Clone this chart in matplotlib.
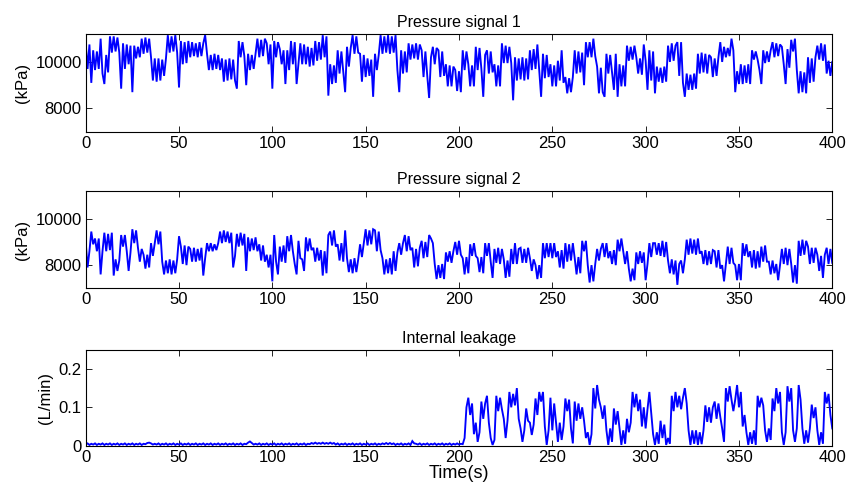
import numpy as np
import matplotlib
matplotlib.use("Agg")
import matplotlib.pyplot as plt

plt.rcParams['font.family'] = ['Liberation Sans', 'DejaVu Sans']

# time axis (s), one sample per second
time_s = list(range(0, 401))

# Pressure signal 1 (kPa)
pressure1 = [
10800,9700,10750,9100,10500,9650,10450,9700,11000,9500,9050,10300,9550,11100,10400,11100,10450,11050,10400,8850,
10800,9700,10750,9900,10700,8700,10700,10150,10650,10200,11000,10350,11050,10400,11000,10200,9200,10150,9150,10150,
9200,10100,9400,10150,11150,10400,11100,10450,11150,10400,8900,10900,9900,10850,9950,10900,10200,10850,10250,10800,
10200,10850,10250,10800,11150,10350,9650,10300,9650,10350,9700,10300,9650,10150,9150,10100,9200,10150,9250,10100,
9200,8850,10900,10200,10850,10250,9000,10350,9650,10300,9700,10350,11000,10200,10950,10250,11000,10800,9900,10750,
8850,10900,10200,10850,10550,9900,10500,9050,10500,9650,10900,9900,10850,9050,9950,10800,9900,10750,9900,10650,
9800,10600,9850,10900,10050,10850,10100,11150,10200,11100,8550,9900,9050,9850,9100,10500,9500,10450,9550,8700,
10650,9800,10600,11150,10350,11100,10400,10350,9150,10300,9350,10150,9400,10100,8500,10350,9650,10300,11150,10350,
11100,10400,11150,10350,11100,10400,11150,9650,8700,10500,9500,10450,9550,10800,10100,10750,10150,10800,10100,10750,
10500,9350,10450,9400,8450,10200,10650,9900,10600,10500,9350,10450,9400,9900,8950,9850,8950,9800,9650,8750,
9600,8700,10500,9650,10450,9900,8950,9850,8950,10650,9650,10600,9700,8500,10300,10500,9500,10450,9550,9900,
8950,9850,8950,10800,9950,10700,9950,10650,9950,8350,10200,9200,10150,9250,10200,9200,10150,9250,10500,9650,
10550,9700,10750,9650,8500,10350,9300,10300,9350,9900,8950,9850,8950,10050,9200,10500,9100,9350,8650,9300,
8700,9350,10500,9500,10450,9550,10400,9000,10850,10200,10850,10200,11000,10250,9800,8650,9750,8700,8500,10350,
9500,10300,9550,8800,10350,8500,9900,8950,9850,8950,10700,10050,10650,10100,10700,10200,9500,10150,9450,10750,
10050,8800,10500,9200,10450,8650,9800,9150,9750,9100,9800,9150,10700,10000,10800,10050,10700,10850,9400,10850,
9100,8500,9500,8800,9450,8800,9500,8850,10350,9500,10400,9550,10350,9500,10300,10200,9350,10150,9400,10200,
10850,10000,10650,10200,10600,10250,11000,10500,8700,9600,9050,9900,9050,9850,9100,9900,9050,10500,10100,10450,
10100,9650,9050,10500,9950,10450,10000,10500,10850,10200,10800,10250,10750,10650,9900,9050,10550,9750,10950,10450,
11000,9650,8650,9600,8700,9550,8650,10200,9100,10150,9150,10200,10700,10100,10800,10050,10750,9500,10050,9400,
10000]

# Pressure signal 2 (kPa)
pressure2 = [
9000,7900,8600,9450,8900,9150,8600,9150,7600,8600,9400,8600,9350,8650,9400,7550,8250,7750,8200,9300,
8800,9300,8600,7750,8550,9550,8950,9500,8750,8150,8700,8450,7850,8450,7900,8950,8400,8950,9500,8900,
9450,8150,7600,8200,7650,8250,7600,8200,7650,8250,9250,8800,8050,8850,8000,8800,8700,8150,8750,8150,
8700,8200,8750,7550,8300,8950,8600,8950,8600,8900,8650,8950,9450,8950,9500,9000,9450,8950,9400,7900,
8400,9350,8800,9400,8850,9350,7750,9200,8600,9150,8650,9200,8600,8900,8200,8850,8150,8450,7900,8450,
7300,9300,8150,7600,8800,8150,8850,8100,9250,8600,9300,8600,8050,7600,9050,8300,8250,7750,9200,8600,
9150,8650,8750,8150,8750,8200,8650,7550,8600,7650,9300,9450,8850,9500,8800,8900,8200,8950,8150,9500,
8300,7700,8250,7650,8300,7700,8250,8900,8350,8950,9550,8850,9500,8900,9550,9500,8600,9450,8650,8300,
7600,8250,7650,8300,7600,8600,7750,8550,8950,8450,8950,9300,8600,9250,8650,8750,7900,8700,7950,8750,
9050,8300,9000,8350,9300,9150,8950,8050,7400,8000,7450,8050,7400,8550,8150,8600,8100,8600,9000,8450,
9050,8450,8300,7600,8350,7650,8900,8400,8950,8400,8300,7700,8350,7650,8950,8400,8950,8150,7450,8700,
8100,8750,8050,8700,8250,7450,8200,7500,8700,8050,8950,8050,8700,8750,8100,8700,8100,8750,8300,7750,
8250,8000,7400,8000,7450,8950,8300,8950,8350,8950,8300,8950,8350,8600,7900,8650,7850,8950,8150,8900,
8200,8950,8300,7600,8350,7650,9050,8600,9050,8000,7250,8000,7300,8050,8700,8200,8700,8950,8350,8950,
8300,8600,8050,8650,8000,9100,8600,9150,8600,8050,8600,7850,7300,7850,7350,8550,8050,8600,8100,8550,
7350,8050,8950,8350,8950,8950,8450,8950,8400,9050,8350,9000,8200,7650,8250,7600,8200,7150,8050,8200,
7650,8250,9100,8450,9150,8500,9100,8450,9150,8500,8600,8050,8650,8000,8600,8050,8650,8600,7900,8650,
7850,8000,7300,8050,8800,8050,8750,8100,8000,7350,8050,7350,8950,8400,8900,8350,8600,7900,8650,7850,
8600,7900,8800,8150,8850,8150,8150,7600,8200,7650,8050,7350,8000,8700,8050,8750,8000,8700,8050,7250,
8000,7200,9050,8400,9100,8450,9050,8800,8050,8750,8100,8750,8450,7750,8400,7450,8450,8750,8050,8700,
8100]

# Internal leakage (L/min)
leakage = [
0.003,0.006,0.002,0.005,0.003,0.006,0.002,0.005,0.003,0.006,0.002,0.005,0.003,0.006,0.002,0.005,0.003,0.006,0.002,0.005,
0.003,0.006,0.002,0.005,0.003,0.006,0.002,0.005,0.003,0.006,0.002,0.005,0.004,0.007,0.008,0.006,0.003,0.005,0.003,0.006,
0.002,0.005,0.003,0.006,0.002,0.005,0.003,0.006,0.002,0.005,0.003,0.006,0.002,0.005,0.003,0.006,0.002,0.005,0.003,0.006,
0.002,0.005,0.003,0.006,0.002,0.005,0.003,0.006,0.002,0.005,0.003,0.006,0.002,0.005,0.003,0.006,0.002,0.005,0.003,0.006,
0.002,0.005,0.003,0.006,0.002,0.005,0.004,0.008,0.011,0.007,0.003,0.005,0.003,0.006,0.002,0.005,0.003,0.006,0.002,0.005,
0.003,0.006,0.002,0.005,0.003,0.006,0.002,0.005,0.003,0.006,0.002,0.005,0.003,0.006,0.002,0.005,0.003,0.006,0.002,0.005,
0.004,0.007,0.005,0.008,0.005,0.007,0.005,0.008,0.005,0.007,0.005,0.008,0.005,0.007,0.003,0.006,0.002,0.005,0.003,0.006,
0.002,0.005,0.003,0.006,0.002,0.005,0.003,0.006,0.002,0.005,0.003,0.006,0.002,0.005,0.003,0.006,0.002,0.005,0.003,0.006,
0.004,0.007,0.004,0.007,0.004,0.006,0.002,0.005,0.003,0.006,0.002,0.005,0.003,0.006,0.002,0.012,0.006,0.005,0.003,0.006,
0.002,0.005,0.003,0.006,0.002,0.005,0.003,0.006,0.002,0.005,0.003,0.006,0.002,0.005,0.003,0.006,0.002,0.005,0.003,0.006,
0.003,0.005,0.004,0.020,0.100,0.125,0.080,0.110,0.030,0.060,0.010,0.035,0.115,0.070,0.110,0.130,0.060,0.020,0.002,0.015,
0.130,0.090,0.125,0.095,0.070,0.020,0.065,0.140,0.100,0.135,0.105,0.150,0.070,0.045,0.010,0.040,0.097,0.065,0.060,0.028,
0.055,0.123,0.080,0.140,0.115,0.140,0.050,0.002,0.040,0.125,0.040,0.110,0.060,0.010,0.060,0.015,0.050,0.123,0.090,0.120,
0.045,0.006,0.115,0.065,0.110,0.070,0.100,0.065,0.020,0.035,0.002,0.030,0.150,0.097,0.158,0.120,0.100,0.070,0.105,0.040,
0.002,0.045,0.010,0.097,0.055,0.090,0.045,0.002,0.040,0.005,0.070,0.035,0.060,0.140,0.100,0.135,0.090,0.120,0.050,0.100,
0.045,0.095,0.140,0.085,0.030,0.002,0.035,0.005,0.065,0.020,0.055,0.002,0.020,0.005,0.130,0.090,0.140,0.100,0.130,0.095,
0.125,0.150,0.110,0.040,0.002,0.040,0.005,0.040,0.002,0.035,0.004,0.040,0.105,0.062,0.100,0.060,0.100,0.115,0.070,0.110,
0.075,0.045,0.010,0.150,0.115,0.155,0.120,0.090,0.120,0.158,0.100,0.140,0.050,0.080,0.035,0.002,0.035,0.005,0.040,0.002,
0.130,0.100,0.125,0.105,0.040,0.010,0.045,0.015,0.123,0.090,0.150,0.110,0.140,0.035,0.002,0.035,0.155,0.115,0.150,0.040,
0.010,0.045,0.158,0.120,0.045,0.005,0.040,0.008,0.045,0.107,0.072,0.100,0.040,0.002,0.035,0.005,0.140,0.110,0.135,0.080,
0.045]

titles = ["Pressure signal 1", "Pressure signal 2", "Internal leakage"]
ylabels = ["(kPa)", "(kPa)", "(L/min)"]
xticks = [0, 50, 100, 150, 200, 250, 300, 350, 400]
pressure_yticks = [8000, 10000]
leak_yticks = [0, 0.1, 0.2]

fig = plt.figure(figsize=(8.51, 4.90), dpi=100)
left, width = 0.1007, 0.8773
boxes = [(0.7312, 0.1994), (0.4116, 0.1986), (0.0904, 0.1959)]
series = [pressure1, pressure2, leakage]

for i, (b, h) in enumerate(boxes):
    ax = fig.add_axes([left, b, width, h])
    ax.plot(time_s, series[i], color='#0000ff', linewidth=1.35,
            solid_joinstyle='miter')
    ax.set_xlim(0, 400)
    ax.set_xticks(xticks)
    if i < 2:
        ax.set_ylim(7000, 11200)
        ax.set_yticks(pressure_yticks)
    else:
        ax.set_ylim(0, 0.25)
        ax.set_yticks(leak_yticks)
        ax.set_yticklabels(['0', '0.1', '0.2'])
    ax.set_title(titles[i], fontsize=11.5, pad=5)
    ax.set_ylabel(ylabels[i], fontsize=12, labelpad=4)
    ax.tick_params(direction='in', top=True, right=True, length=4, width=0.6,
                   labelsize=12, pad=3)
    for sp in ax.spines.values():
        sp.set_linewidth(0.8)
    if i == 2:
        ax.set_xlabel("Time(s)", fontsize=13, labelpad=0)

fig.savefig("out.png", dpi=100)
